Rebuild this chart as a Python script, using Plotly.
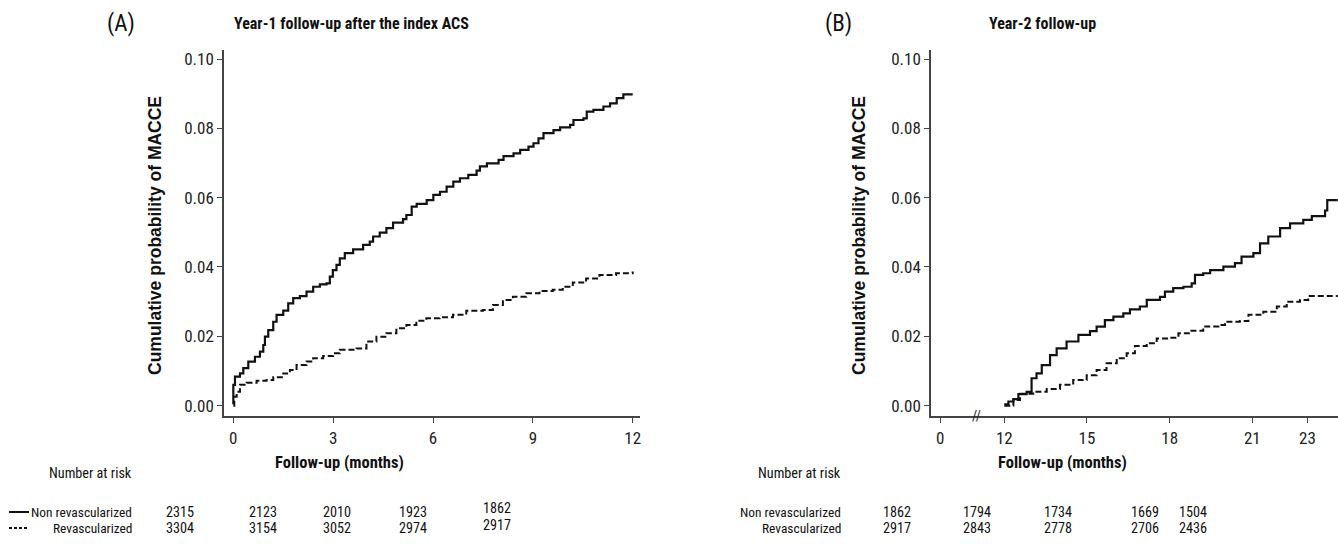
import plotly.graph_objects as go

# ---------------- DATA ----------------
# Panel A: Year-1 follow-up (months, cumulative probability)
a_non_t = [0, 0, 0.05, 0.2, 0.3, 0.45, 0.65, 0.8, 0.9, 0.95, 1.05, 1.2, 1.3, 1.5, 1.65, 1.8, 2.0, 2.2, 2.4,
           2.6, 2.8, 2.9, 2.99, 3.1, 3.2, 3.35, 3.6, 3.9, 4.1, 4.2, 4.4, 4.6, 4.8, 5.1, 5.2, 5.36, 5.51, 5.81,
           6.01, 6.21, 6.41, 6.61, 6.81, 7.06, 7.31, 7.41, 7.62, 7.97, 8.12, 8.42, 8.62, 8.87, 9.02, 9.17,
           9.32, 9.62, 9.82, 10.12, 10.22, 10.52, 10.62, 10.82, 11.12, 11.32, 11.52, 11.72, 12.0]
a_non_p = [0.0004, 0.006, 0.0084, 0.0093, 0.0108, 0.0127, 0.0141, 0.0156, 0.0175, 0.0199, 0.0218, 0.0242,
           0.0262, 0.0274, 0.0295, 0.031, 0.0316, 0.0329, 0.0343, 0.035, 0.0353, 0.0372, 0.0391, 0.0406,
           0.0425, 0.044, 0.0451, 0.0464, 0.0473, 0.0488, 0.0499, 0.0512, 0.0528, 0.0538, 0.055, 0.0574,
           0.0582, 0.0593, 0.0608, 0.0617, 0.0632, 0.0646, 0.0656, 0.0666, 0.0678, 0.069, 0.0699, 0.0709,
           0.072, 0.0728, 0.0738, 0.0747, 0.0757, 0.0771, 0.0786, 0.0795, 0.0803, 0.081, 0.0824, 0.0829,
           0.0848, 0.0853, 0.0863, 0.0872, 0.0887, 0.0898, 0.0898]
a_rev_t = [0, 0.03, 0.1, 0.2, 0.4, 0.7, 1.0, 1.2, 1.5, 1.7, 1.9, 2.2, 2.4, 2.7, 3.0, 3.2, 3.7, 4.0, 4.3,
           4.6, 4.9, 5.2, 5.5, 5.8, 6.2, 6.6, 7.0, 7.5, 7.8, 8.1, 8.4, 8.8, 9.2, 9.6, 9.9, 10.2, 10.6,
           11.0, 11.5, 12.0]
a_rev_p = [0.0, 0.0026, 0.004, 0.006, 0.0066, 0.0072, 0.0074, 0.0082, 0.0093, 0.0103, 0.0117, 0.0127,
           0.0137, 0.0143, 0.0151, 0.0161, 0.0165, 0.0185, 0.0199, 0.0209, 0.0223, 0.0233, 0.0245, 0.0252,
           0.0255, 0.0262, 0.0274, 0.0276, 0.029, 0.0305, 0.0314, 0.0324, 0.0331, 0.0334, 0.0343, 0.0355,
           0.0367, 0.0377, 0.0382, 0.0387]

# Panel B: Year-2 follow-up
b_non_t = [12.0, 12.15, 12.33, 12.51, 12.81, 12.99, 13.17, 13.36, 13.66, 13.9, 14.26, 14.69, 15.11, 15.35,
           15.65, 15.96, 16.32, 16.56, 16.92, 17.17, 17.65, 17.83, 18.13, 18.5, 18.8, 18.92, 19.22, 19.47,
           19.95, 20.37, 20.61, 21.04, 21.28, 21.58, 22.01, 22.37, 22.85, 23.16, 23.64, 23.72, 24.1]
b_non_p = [0.0004, 0.0012, 0.0019, 0.0033, 0.004, 0.0079, 0.0093, 0.0117, 0.0146, 0.0165, 0.0185, 0.0204,
           0.0215, 0.0228, 0.0247, 0.0257, 0.0266, 0.0278, 0.0286, 0.0305, 0.0314, 0.0329, 0.0339, 0.0343,
           0.0353, 0.0377, 0.0382, 0.0391, 0.0401, 0.0411, 0.043, 0.044, 0.0468, 0.0488, 0.0512, 0.0526,
           0.0536, 0.0547, 0.0563, 0.0593, 0.0593]
b_rev_t = [12.0, 12.33, 12.57, 13.05, 13.54, 14.02, 14.5, 14.99, 15.35, 15.71, 16.08, 16.44, 16.74, 17.17,
           17.53, 18.01, 18.32, 18.74, 19.22, 19.77, 20.01, 20.55, 20.86, 21.4, 21.89, 22.25, 22.73, 23.03,
           24.1]
b_rev_p = [0.0, 0.0016, 0.0034, 0.004, 0.0048, 0.006, 0.0074, 0.0088, 0.0103, 0.0122, 0.0137, 0.0151,
           0.0172, 0.018, 0.0194, 0.0196, 0.0209, 0.0216, 0.0228, 0.0233, 0.0242, 0.0244, 0.0262, 0.0271,
           0.0286, 0.03, 0.0305, 0.0316, 0.0316]

# Tick labels
y_ticks = [0.0, 0.02, 0.04, 0.06, 0.08, 0.10]
a_x_ticks = [0, 3, 6, 9, 12]
b_x_tickvals = [9.67, 12, 15, 18, 21, 23]   # 0 is placed before the axis break
b_x_ticktext = ["0", "12", "15", "18", "21", "23"]

# Number at risk
a_risk_non = ["2315", "2123", "2010", "1923", "1862"]
a_risk_rev = ["3304", "3154", "3052", "2974", "2917"]
b_risk_non = ["1862", "1794", "1734", "1669", "1504"]
b_risk_rev = ["2917", "2843", "2778", "2706", "2436"]

# ---------------- FIGURE ----------------
W, H = 1338, 544
FONT = "Roboto Condensed, Liberation Sans Narrow, Arial Narrow, Liberation Sans, Arial, sans-serif"
WIDE = "Liberation Sans, Arial, Helvetica, sans-serif"
BLACK = "#111111"
AXC = "#444444"

def px(x):
    return x / W

def py(y):
    return 1 - y / H

fig = go.Figure()
fig.add_trace(go.Scatter(x=a_non_t, y=a_non_p, mode="lines", line=dict(color=BLACK, width=2.2, shape="hv"),
                         xaxis="x", yaxis="y", showlegend=False))
fig.add_trace(go.Scatter(x=a_rev_t, y=a_rev_p, mode="lines",
                         line=dict(color=BLACK, width=2, shape="hv", dash="6px,3px"),
                         xaxis="x", yaxis="y", showlegend=False))
fig.add_trace(go.Scatter(x=b_non_t, y=b_non_p, mode="lines", line=dict(color=BLACK, width=2.2, shape="hv"),
                         xaxis="x2", yaxis="y2", showlegend=False))
fig.add_trace(go.Scatter(x=b_rev_t, y=b_rev_p, mode="lines",
                         line=dict(color=BLACK, width=2, shape="hv", dash="6px,3px"),
                         xaxis="x2", yaxis="y2", showlegend=False))

tickfont = dict(family=FONT, size=17, color="#222222")
ydom = [py(415.7), py(50)]
yaxis_common = dict(range=[-0.0029, 0.1026], tickvals=y_ticks, tickformat=".2f", showgrid=False,
                    zeroline=False, showline=True, linecolor=AXC, linewidth=1.5, ticks="outside",
                    ticklen=5, tickwidth=1.2, tickcolor=AXC, tickfont=tickfont, domain=ydom)
xaxis_common = dict(showgrid=False, zeroline=False, showline=True, linecolor=AXC, linewidth=1.5,
                    ticks="outside", ticklen=6, tickwidth=1.2, tickcolor=AXC, tickfont=tickfont)

fig.update_layout(
    width=W, height=H,
    margin=dict(l=0, r=0, t=0, b=0),
    paper_bgcolor="white", plot_bgcolor="white",
    font=dict(family=FONT, color="#222222"),
    xaxis=dict(domain=[px(224), px(640)], range=[-0.28, 12.22], tickvals=a_x_ticks, anchor="y",
               **xaxis_common),
    yaxis=dict(anchor="x", **yaxis_common),
    xaxis2=dict(domain=[px(931), 1.0], range=[9.34, 24.11], tickvals=b_x_tickvals, ticktext=b_x_ticktext,
                anchor="y2", **xaxis_common),
    yaxis2=dict(anchor="x2", **yaxis_common),
)

ann = []
def text(x, y, s, size=15, bold=False, xanchor="center", textangle=0, family=FONT):
    ann.append(dict(x=px(x), y=py(y), xref="paper", yref="paper", text=f"<b>{s}</b>" if bold else s,
                    showarrow=False, xanchor=xanchor, yanchor="middle", textangle=textangle,
                    font=dict(family=family, size=size, color="#111111")))

# Panel labels and titles
text(121, 24, "(A)", size=23)
text(351, 24, "Year-1 follow-up after the index ACS", size=16, bold=True)
text(838, 24, "(B)", size=23)
text(1042, 24, "Year-2 follow-up", size=16, bold=True)

# Axis titles
text(155, 236, "Cumulative probability of MACCE", size=17.5, bold=True, textangle=-90, family=WIDE)
text(859, 236, "Cumulative probability of MACCE", size=17.5, bold=True, textangle=-90, family=WIDE)
text(339, 462, "Follow-up (months)", size=16.5, bold=True)
text(1062, 462, "Follow-up (months)", size=16.5, bold=True)

# Number at risk tables
TS = 14.2
LS = 13.4
text(134, 473, "Number at risk", size=TS, xanchor="right")
text(134, 512, "Non revascularized", size=LS, xanchor="right")
text(134, 528, "Revascularized", size=LS, xanchor="right")
text(843, 473, "Number at risk", size=TS, xanchor="right")
text(843, 512, "Non revascularized", size=LS, xanchor="right")
text(843, 528, "Revascularized", size=LS, xanchor="right")

a_risk_x = [180, 263, 337, 413, 497]
b_risk_x = [897, 977, 1058, 1145, 1193]
for i, (xv, s1, s2) in enumerate(zip(a_risk_x, a_risk_non, a_risk_rev)):
    text(xv, 508 if i == 4 else 512, s1, size=TS)
    text(xv, 525 if i == 4 else 528, s2, size=TS)
for xv, s1, s2 in zip(b_risk_x, b_risk_non, b_risk_rev):
    text(xv, 512, s1, size=TS)
    text(xv, 528, s2, size=TS)

# Axis break marker on panel B
ann.append(dict(x=11.0, y=py(415.7), xref="x2", yref="paper", text="//", showarrow=False,
                xanchor="center", yanchor="middle", font=dict(family=FONT, size=14, color="#222222")))
fig.update_layout(annotations=ann)

# legend line samples in the risk table
fig.add_shape(type="line", xref="paper", yref="paper", x0=px(9), x1=px(29), y0=py(512), y1=py(512),
              line=dict(color=BLACK, width=2))
fig.add_shape(type="line", xref="paper", yref="paper", x0=px(9), x1=px(29), y0=py(528), y1=py(528),
              line=dict(color=BLACK, width=2, dash="3px,2px"))

fig.write_html("out.html", config={"displayModeBar": False},
               post_script="document.body.style.margin='0';document.body.style.overflow='hidden';")
